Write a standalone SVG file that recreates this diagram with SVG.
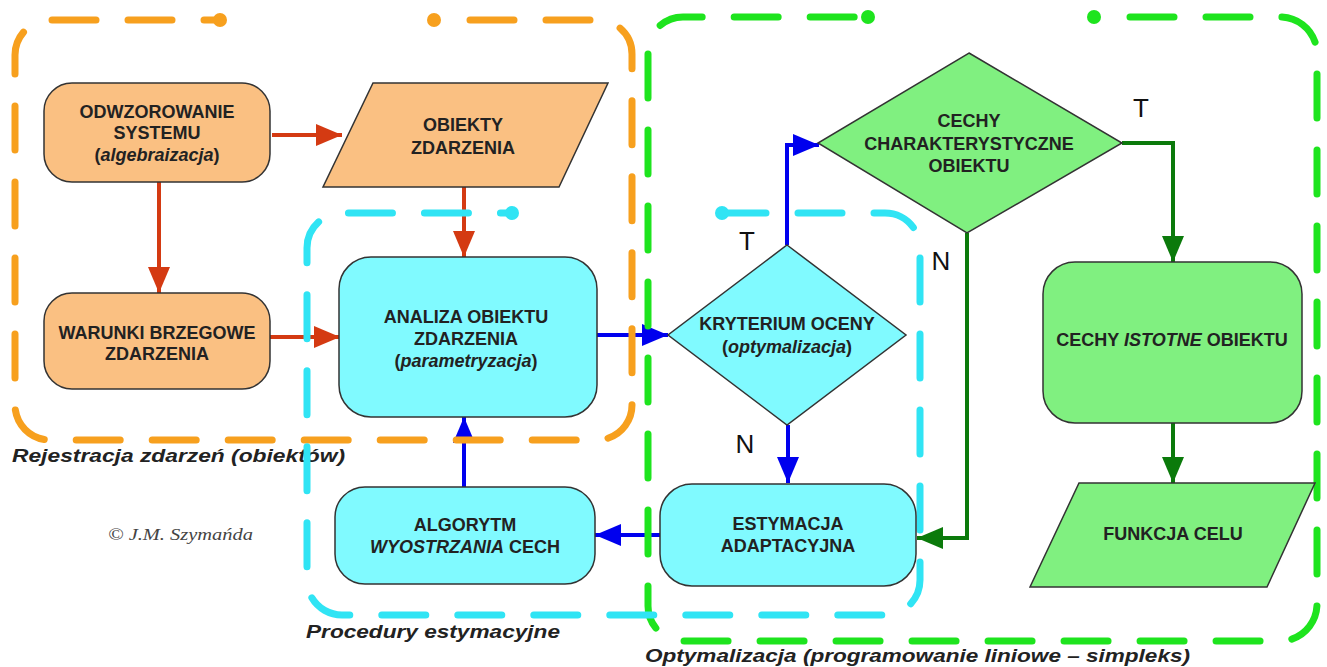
<svg xmlns="http://www.w3.org/2000/svg" width="1327" height="667" viewBox="0 0 1327 667">
<style>
.node{stroke:#333;stroke-width:1.5}
.or{fill:#FAC082}
.cy{fill:#80FAFF}
.gr{fill:#80F080}
.t{font-family:"Liberation Sans",Arial,sans-serif;font-weight:bold;font-size:18px;fill:#222;text-anchor:middle}
.it{font-style:italic}
.lbl{font-family:"Liberation Sans",Arial,sans-serif;font-size:26px;fill:#111;text-anchor:middle}
.fl{font-family:"Liberation Sans",Arial,sans-serif;font-weight:bold;font-style:italic;font-size:19px;fill:#222}
.frame{fill:none;stroke-width:7;stroke-linecap:round;stroke-dasharray:44 32}
.red{fill:none;stroke:#D43A12;stroke-width:4}
.blue{fill:none;stroke:#0000EE;stroke-width:4}
.dg{fill:none;stroke:#0B7A0B;stroke-width:4}
</style>
<defs>
<marker id="aR" markerUnits="userSpaceOnUse" markerWidth="26" markerHeight="22" refX="26" refY="11" orient="auto"><path d="M0,0 L26,11 L0,22 z" fill="#D43A12"/></marker>
<marker id="aB" markerUnits="userSpaceOnUse" markerWidth="26" markerHeight="22" refX="26" refY="11" orient="auto"><path d="M0,0 L26,11 L0,22 z" fill="#0000EE"/></marker>
<marker id="aG" markerUnits="userSpaceOnUse" markerWidth="26" markerHeight="22" refX="26" refY="11" orient="auto"><path d="M0,0 L26,11 L0,22 z" fill="#0B7A0B"/></marker>
</defs>
<rect width="1327" height="667" fill="#fff"/>

<g id="connectors">
<path class="red" d="M272,135 H342" marker-end="url(#aR)"/>
<path class="red" d="M159,182 V293" marker-end="url(#aR)"/>
<path class="red" d="M464,187 V257" marker-end="url(#aR)"/>
<path class="red" d="M270,337 H340" marker-end="url(#aR)"/>
<path class="blue" d="M597,335 H668" marker-end="url(#aB)"/>
<path class="blue" d="M787,245 V145 H819" marker-end="url(#aB)"/>
<path class="blue" d="M788,425 V483" marker-end="url(#aB)"/>
<path class="blue" d="M660,535 H595" marker-end="url(#aB)"/>
<path class="blue" d="M464,487 V417" marker-end="url(#aB)"/>
<path class="dg" d="M1122,143 H1173 V262" marker-end="url(#aG)"/>
<path class="dg" d="M967,233 V538 H917" marker-end="url(#aG)"/>
<path class="dg" d="M1173,423 V483" marker-end="url(#aG)"/>
</g>

<g id="frame-labels">
<text class="fl" x="12" y="462" textLength="333" lengthAdjust="spacingAndGlyphs">Rejestracja zdarzeń (obiektów)</text>
<text class="fl" x="306" y="638" textLength="254" lengthAdjust="spacingAndGlyphs">Procedury estymacyjne</text>
<text class="fl" x="645" y="662" textLength="545" lengthAdjust="spacingAndGlyphs">Optymalizacja (programowanie liniowe – simpleks)</text>
<text x="108" y="540" font-family="'Liberation Serif','Times New Roman',serif" font-style="italic" font-size="16" fill="#444" textLength="145" lengthAdjust="spacingAndGlyphs">© J.M. Szymańda</text>
</g>

<g id="frames">
<g id="frame-orange" stroke="#F7A01E" fill="#F7A01E">
<path class="frame" d="M470,20 H598 A34,34 0 0 1 632,54 V405 A35,35 0 0 1 597,440 H50 A35,35 0 0 1 15,405 V55 A35,35 0 0 1 50,20 H220"/>
<circle cx="220" cy="20" r="7" stroke="none"/>
<circle cx="434" cy="20" r="7" stroke="none"/>
</g>
<g id="frame-green" stroke="#1EE41E" fill="#1EE41E">
<path class="frame" d="M1130,17 H1280 A37,37 0 0 1 1317,54 V604 A37,37 0 0 1 1280,641 H683 A35,35 0 0 1 648,606 V52 A35,35 0 0 1 683,17 H868"/>
<circle cx="868" cy="17" r="7" stroke="none"/>
<circle cx="1094" cy="17" r="7" stroke="none"/>
</g>
<g id="frame-cyan" stroke="#30E4F4" fill="#30E4F4">
<path class="frame" d="M722,213 H885 A35,35 0 0 1 920,248 V580 A35,35 0 0 1 885,615 H342 A35,35 0 0 1 307,580 V248 A35,35 0 0 1 342,213 H512"/>
<circle cx="512" cy="213" r="7" stroke="none"/>
<circle cx="722" cy="213" r="7" stroke="none"/>
</g>
</g>

<g id="n-odwzorowanie">
<rect class="node or" x="44" y="83" width="226" height="99" rx="28"/>
<text class="t" x="157" y="118">ODWZOROWANIE</text>
<text class="t" x="157" y="139">SYSTEMU</text>
<text class="t" x="157" y="161">(<tspan class="it">algebraizacja</tspan>)</text>
</g>
<g id="n-obiekty">
<path class="node or" d="M373,83 H608 L559,187 H323 Z"/>
<text class="t" x="463" y="131">OBIEKTY</text>
<text class="t" x="463" y="154">ZDARZENIA</text>
</g>
<g id="n-warunki">
<rect class="node or" x="44" y="293" width="226" height="96" rx="28"/>
<text class="t" x="157" y="339">WARUNKI BRZEGOWE</text>
<text class="t" x="157" y="360">ZDARZENIA</text>
</g>
<g id="n-analiza">
<rect class="node cy" x="339" y="257" width="258" height="160" rx="32"/>
<text class="t" x="466" y="323">ANALIZA OBIEKTU</text>
<text class="t" x="466" y="345">ZDARZENIA</text>
<text class="t" x="466" y="367">(<tspan class="it">parametryzacja</tspan>)</text>
</g>
<g id="n-algorytm">
<rect class="node cy" x="335" y="487" width="260" height="97" rx="30"/>
<text class="t" x="465" y="531">ALGORYTM</text>
<text class="t" x="465" y="553"><tspan class="it">WYOSTRZANIA</tspan> CECH</text>
</g>
<g id="n-kryterium">
<path class="node cy" d="M787,245 L906,335 L787,425 L668,335 Z"/>
<text class="t" x="787" y="330">KRYTERIUM OCENY</text>
<text class="t" x="787" y="353">(<tspan class="it">optymalizacja</tspan>)</text>
</g>
<g id="n-estymacja">
<rect class="node cy" x="660" y="484" width="256" height="102" rx="32"/>
<text class="t" x="788" y="530">ESTYMACJA</text>
<text class="t" x="788" y="552">ADAPTACYJNA</text>
</g>
<g id="n-cechy-char">
<path class="node gr" d="M969,53 L1122,143 L967,233 L818,143 Z"/>
<text class="t" x="969" y="127">CECHY</text>
<text class="t" x="969" y="150">CHARAKTERYSTYCZNE</text>
<text class="t" x="969" y="172">OBIEKTU</text>
</g>
<g id="n-cechy-istotne">
<rect class="node gr" x="1043" y="262" width="259" height="161" rx="32"/>
<text class="t" x="1172" y="346">CECHY <tspan class="it">ISTOTNE</tspan> OBIEKTU</text>
</g>
<g id="n-funkcja">
<path class="node gr" d="M1079,483 H1315 L1267,587 H1030 Z"/>
<text class="t" x="1173" y="540">FUNKCJA CELU</text>
</g>

<g id="branch-labels">
<text class="lbl" x="747" y="250">T</text>
<text class="lbl" x="745" y="453">N</text>
<text class="lbl" x="1141" y="117">T</text>
<text class="lbl" x="941" y="270">N</text>
</g>
</svg>
